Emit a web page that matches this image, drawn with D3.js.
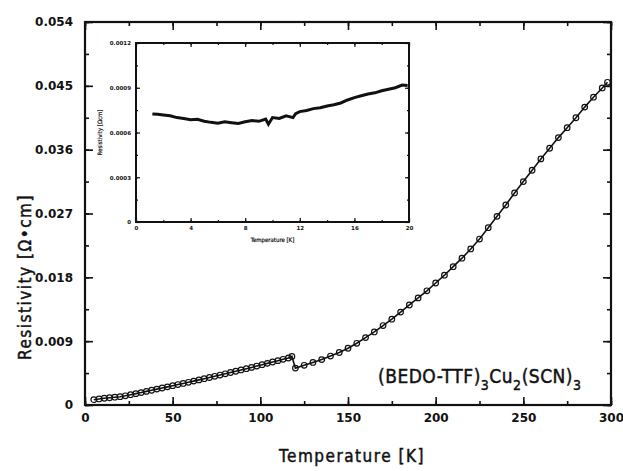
<!DOCTYPE html>
<html>
<head>
<meta charset="utf-8">
<script src="https://cdn.jsdelivr.net/npm/d3@7"></script>
<style>
body { margin: 0; background: #fff; }
svg { display: block; }
.axis text { font-family: "DejaVu Sans", sans-serif; font-weight: bold; fill: #111; }
.axis line { stroke: #111; }
.axis .domain { display: none; }
.title { font-family: "DejaVu Sans Condensed", "DejaVu Sans", sans-serif; fill: #111; stroke: #111; stroke-width: 0.45px; }
</style>
</head>
<body>
<div id="chart"></div>
<script>
// main curve: temperature (K) and resistivity (ohm cm)
var temps = [5, 8, 11, 14, 17, 20, 23, 26, 29, 32, 35, 38, 41, 44, 47, 50, 53, 56, 59, 62,
  65, 68, 71, 74, 77, 80, 83, 86, 89, 92, 95, 98, 101, 104, 107, 110, 113, 116, 118,
  120, 125, 130, 135, 140, 145, 150, 155, 160, 165, 170, 175, 180, 185, 190, 195, 200,
  205, 210, 215, 220, 225, 230, 235, 240, 245, 250, 255, 260, 265, 270, 275, 280, 285,
  290, 295, 298];
var rho = [0.00075, 0.00085, 0.00095, 0.00102, 0.00110, 0.00117, 0.00130, 0.00145, 0.00160, 0.00175,
  0.00192, 0.00208, 0.00224, 0.00240, 0.00256, 0.00272, 0.00288, 0.00304, 0.00320, 0.00337,
  0.00354, 0.00371, 0.00388, 0.00405, 0.00422, 0.00440, 0.00458, 0.00476, 0.00494, 0.00512,
  0.00530, 0.00549, 0.00568, 0.00587, 0.00606, 0.00625, 0.00644, 0.00663, 0.00685,
  0.00520, 0.00560, 0.00600, 0.00640, 0.00690, 0.00740, 0.00800, 0.00870, 0.00950, 0.01030,
  0.01120, 0.01210, 0.01310, 0.01410, 0.01510, 0.01610, 0.01720, 0.01830, 0.01950, 0.02070,
  0.02200, 0.02340, 0.02500, 0.02660, 0.02820, 0.02990, 0.03150, 0.03310, 0.03470, 0.03620,
  0.03770, 0.03910, 0.04050, 0.04200, 0.04340, 0.04470, 0.04550];

// inset: low temperature part
var insetTemps = [1.2, 1.6, 2.0, 2.5, 3.0, 3.5, 4.0, 4.5, 5.0, 5.5, 6.0, 6.5, 7.0, 7.5, 8.0, 8.5,
  9.0, 9.5, 9.7, 10.0, 10.5, 11.0, 11.5, 11.7, 12.0, 12.5, 13.0, 13.5, 14.0, 14.5, 15.0, 15.5,
  16.0, 16.5, 17.0, 17.5, 18.0, 18.5, 19.0, 19.5, 19.9];
var insetRho = [0.000724, 0.000722, 0.000718, 0.000712, 0.000700, 0.000694, 0.000686, 0.000688,
  0.000676, 0.000668, 0.000662, 0.000672, 0.000666, 0.000660, 0.000672, 0.000680, 0.000675,
  0.000690, 0.000655, 0.000700, 0.000694, 0.000712, 0.000700, 0.000726, 0.000740, 0.000748,
  0.000760, 0.000766, 0.000778, 0.000786, 0.000798, 0.000818, 0.000834, 0.000846, 0.000858,
  0.000866, 0.000880, 0.000890, 0.000900, 0.000918, 0.000915];

var xTicks = [0, 50, 100, 150, 200, 250, 300];
var yTicks = [0, 0.009, 0.018, 0.027, 0.036, 0.045, 0.054];
var insetXTicks = [0, 4, 8, 12, 16, 20];
var insetYTicks = [0, 0.0003, 0.0006, 0.0009, 0.0012];

var width = 623, height = 471;
var margin = {top: 22, right: 12, bottom: 66, left: 85};
var chartWidth = width - margin.left - margin.right;
var chartHeight = height - margin.top - margin.bottom;

var svg = d3.select('#chart').append('svg')
    .attr('width', width)
    .attr('height', height);

var g = svg.append('g')
    .attr('transform', `translate(${margin.left}, ${margin.top})`);

var xScale = d3.scaleLinear().domain([0, 300]).range([0, chartWidth]);
var yScale = d3.scaleLinear().domain([0, 0.054]).range([chartHeight, 0]);

var minorX = d3.range(0, 301, 25);
var minorY = d3.range(0, 0.0541, 0.0045);

// draws inward ticks on the four sides of a frame
function frameAxes(sel, x, y, w, h, xt, yt, xm, ym, big, small, fs, fmtX, fmtY, padX, padY) {
  sel.append('g').attr('class', 'axis').attr('transform', `translate(0,${h})`)
    .call(d3.axisBottom(x).tickValues(xm).tickSize(-small).tickFormat(''));
  sel.append('g').attr('class', 'axis').attr('transform', `translate(0,${h})`)
    .call(d3.axisBottom(x).tickValues(xt).tickSize(-big).tickPadding(padX).tickFormat(fmtX))
    .selectAll('text').style('font-size', fs + 'px');
  sel.append('g').attr('class', 'axis')
    .call(d3.axisTop(x).tickValues(xm).tickSize(-small).tickFormat(''));
  sel.append('g').attr('class', 'axis')
    .call(d3.axisTop(x).tickValues(xt).tickSize(-big).tickFormat(''));
  sel.append('g').attr('class', 'axis')
    .call(d3.axisLeft(y).tickValues(ym).tickSize(-small).tickFormat(''));
  sel.append('g').attr('class', 'axis')
    .call(d3.axisLeft(y).tickValues(yt).tickSize(-big).tickPadding(padY).tickFormat(fmtY))
    .selectAll('text').style('font-size', fs + 'px');
  sel.append('g').attr('class', 'axis').attr('transform', `translate(${w},0)`)
    .call(d3.axisRight(y).tickValues(ym).tickSize(-small).tickFormat(''));
  sel.append('g').attr('class', 'axis').attr('transform', `translate(${w},0)`)
    .call(d3.axisRight(y).tickValues(yt).tickSize(-big).tickFormat(''));
}

frameAxes(g, xScale, yScale, chartWidth, chartHeight, xTicks, yTicks, minorX, minorY,
  8, 4, 12, d3.format('d'), d => d == 0 ? '0' : d3.format('.3f')(d), 8, 12);
g.selectAll('.axis line').attr('stroke-width', 1.6);

g.append('rect')
    .attr('width', chartWidth)
    .attr('height', chartHeight)
    .attr('fill', 'none')
    .attr('stroke', '#111')
    .attr('stroke-width', 2.2);

var points = temps.map((t, i) => [t, rho[i]]);

var line = d3.line()
    .x(d => xScale(d[0]))
    .y(d => yScale(d[1]));

g.append('path')
    .datum(points)
    .attr('d', line)
    .attr('fill', 'none')
    .attr('stroke', '#111')
    .attr('stroke-width', 1.6);

g.selectAll('.dot')
    .data(points)
    .enter()
    .append('circle')
    .attr('class', 'dot')
    .attr('cx', d => xScale(d[0]))
    .attr('cy', d => yScale(d[1]))
    .attr('r', 2.8)
    .attr('fill', 'none')
    .attr('stroke', '#111')
    .attr('stroke-width', 1.2);

// formula label
var formula = g.append('text')
    .attr('class', 'title')
    .attr('x', 293)
    .attr('y', 361)
    .style('font-size', '19px')
    .style('letter-spacing', '0.5px');
var parts = [['(BEDO-TTF)', 0], ['3', 1], ['Cu', 0], ['2', 1], ['(SCN)', 0], ['3', 1]];
var shift = 0;
parts.forEach(function(p) {
  var dy = p[1] ? 7 - shift : -shift;
  shift = p[1] ? 7 : 0;
  formula.append('tspan')
    .attr('dy', dy)
    .style('font-size', p[1] ? '14px' : '19px')
    .text(p[0]);
});

// axis titles
svg.append('text')
    .attr('class', 'title')
    .attr('x', 352)
    .attr('y', 462)
    .attr('text-anchor', 'middle')
    .style('font-size', '17px')
    .style('letter-spacing', '1.5px')
    .text('Temperature [K]');

svg.append('text')
    .attr('class', 'title')
    .attr('transform', 'translate(31,277) rotate(-90)')
    .attr('text-anchor', 'middle')
    .style('font-size', '17px')
    .style('letter-spacing', '1.5px')
    .text('Resistivity [\u03A9\u2022cm]');

// inset
var inset = {left: 136, top: 43, width: 273, height: 179};
var ig = svg.append('g')
    .attr('transform', `translate(${inset.left}, ${inset.top})`);

ig.append('rect')
    .attr('width', inset.width)
    .attr('height', inset.height)
    .attr('fill', '#fff');

var ix = d3.scaleLinear().domain([0, 20]).range([0, inset.width]);
var iy = d3.scaleLinear().domain([0, 0.0012]).range([inset.height, 0]);

frameAxes(ig, ix, iy, inset.width, inset.height, insetXTicks, insetYTicks,
  d3.range(0, 20.1, 2), d3.range(0, 0.00121, 0.00015),
  4, 2, 5.5, d3.format('d'), d => d == 0 ? '0' : d3.format('.4f')(d), 4, 5);
ig.selectAll('.axis line').attr('stroke-width', 1.2);

ig.append('rect')
    .attr('width', inset.width)
    .attr('height', inset.height)
    .attr('fill', 'none')
    .attr('stroke', '#111')
    .attr('stroke-width', 2);

var insetPoints = insetTemps.map((t, i) => [t, insetRho[i]]);

ig.append('path')
    .datum(insetPoints)
    .attr('d', d3.line().x(d => ix(d[0])).y(d => iy(d[1])))
    .attr('fill', 'none')
    .attr('stroke', '#111')
    .attr('stroke-width', 3);

ig.append('text')
    .attr('class', 'title')
    .attr('x', inset.width / 2)
    .attr('y', 199)
    .attr('text-anchor', 'middle')
    .style('font-size', '6px')
    .style('stroke-width', '0.2px')
    .text('Temperature [K]');

ig.append('text')
    .attr('class', 'title')
    .attr('transform', `translate(-34,${inset.height / 2}) rotate(-90)`)
    .attr('text-anchor', 'middle')
    .style('font-size', '6px')
    .style('stroke-width', '0.2px')
    .text('Resistivity [\u03A9cm]');
</script>
</body>
</html>
